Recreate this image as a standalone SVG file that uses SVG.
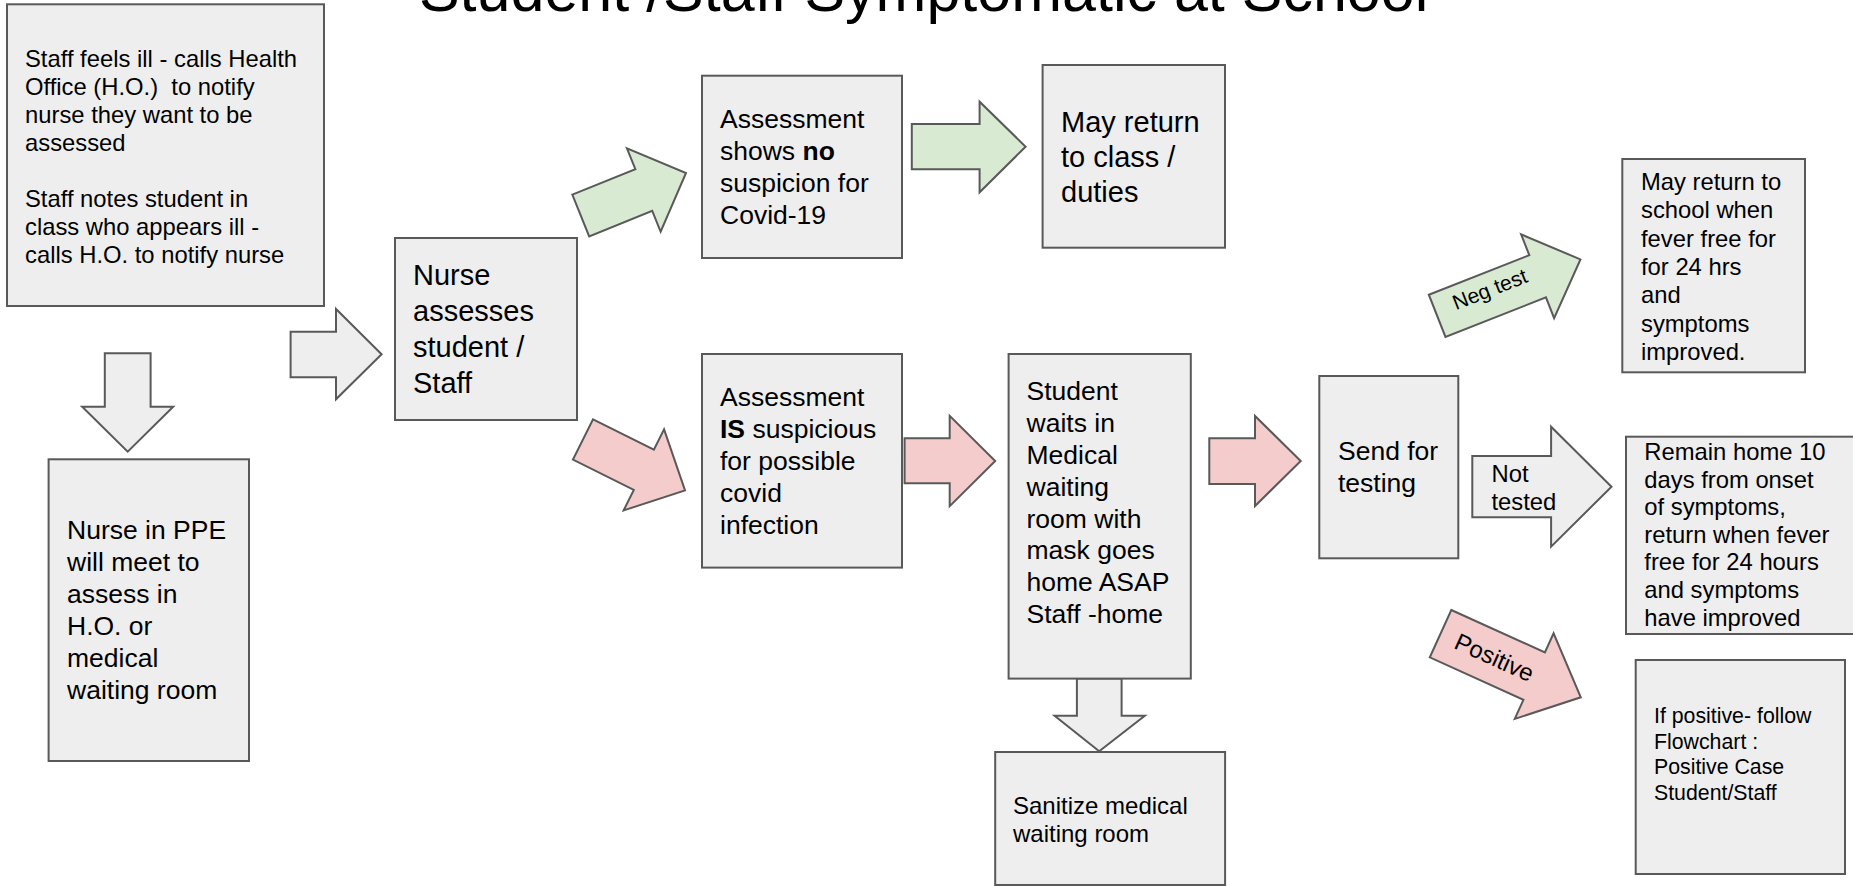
<svg xmlns="http://www.w3.org/2000/svg" width="1853" height="886" viewBox="0 0 1853 886">
<style>
.box{fill:#eeeeee;stroke:#595959;stroke-width:2}
.ga{fill:#eeeeee;stroke:#595959;stroke-width:2;stroke-linejoin:miter}
.gr{fill:#d9ead3;stroke:#595959;stroke-width:2}
.pk{fill:#f4cccc;stroke:#595959;stroke-width:2}
text{font-family:"Liberation Sans",Arial,sans-serif;fill:#000;white-space:pre}
.t29{font-size:29px}
.t26{font-size:26.5px}
.t24{font-size:23.8px}
.t21{font-size:21.3px}
.b{font-weight:bold}
</style>
<rect width="1853" height="886" fill="#ffffff"/>
<text x="923.6" y="11" text-anchor="middle" style="font-size:61px">Student /Staff Symptomatic at School</text>

<g id="connectors">
  <path class="ga" d="M290.6,331.7 H336 V309 L381.6,354.3 L336,399.3 V377.3 H290.6 Z"/>
  <path class="ga" d="M104.8,353.3 H150.6 V406.7 H173.2 L127.7,451.7 L82.2,406.7 H104.8 Z"/>
  <path class="gr" transform="translate(580.75,215.5) rotate(-22)" d="M0,-22.5 H68 V-45 L113.5,0 L68,45 V22.5 H0 Z"/>
  <path class="pk" transform="translate(583,439.5) rotate(26.5)" d="M0,-22.5 H68 V-45.3 L114,0 L68,45.3 V22.5 H0 Z"/>
  <path class="gr" d="M911.8,124 H979.6 V101.7 L1025.6,146.7 L979.6,192.3 V169.3 H911.8 Z"/>
  <path class="pk" d="M904.6,438.2 H949.7 V415.8 L995.2,461 L949.7,506.2 V483.2 H904.6 Z"/>
  <path class="ga" d="M1076.9,678.6 H1121.6 V715.8 H1144.8 L1099.2,751.3 L1054.6,715.8 H1076.9 Z"/>
  <path class="pk" d="M1209.3,438.3 H1255 V416 L1300.7,461 L1255,506 V484 H1209.3 Z"/>
  <g id="neg-test">
    <path class="gr" transform="translate(1437.15,315.85) rotate(-21.5)" d="M0,-22.7 H108 V-45 L154,0 L108,45 V22.7 H0 Z"/>
    <text class="t21" x="0" y="0" text-anchor="middle" transform="translate(1492.5,296) rotate(-21.5)" style="font-size:21px">Neg test</text>
  </g>
  <g id="not-tested">
    <path class="ga" d="M1472.3,456 H1551.1 V426.7 L1611.5,486.7 L1551.1,546.7 V517.3 H1472.3 Z"/>
    <text class="t24" x="1491.5" y="482">Not</text>
    <text class="t24" x="1491.5" y="510">tested</text>
  </g>
  <g id="positive">
    <path class="pk" transform="translate(1440.55,633.65) rotate(24.4)" d="M0,-26 H102.8 V-47 L154,0 L102.8,47 V26 H0 Z"/>
    <text x="0" y="0" text-anchor="middle" transform="translate(1491,665) rotate(24.4)" style="font-size:24px">Positive</text>
  </g>
</g>

<g id="node-staff-ill">
  <rect class="box" x="7" y="4.3" width="317" height="301.7"/>
  <text class="t24" x="25" y="66.7">Staff feels ill - calls Health</text>
  <text class="t24" x="25" y="95">Office (H.O.)  to notify</text>
  <text class="t24" x="25" y="123.3">nurse they want to be</text>
  <text class="t24" x="25" y="151.3">assessed</text>
  <text class="t24" x="25" y="206.7">Staff notes student in</text>
  <text class="t24" x="25" y="235">class who appears ill -</text>
  <text class="t24" x="25" y="263.3">calls H.O. to notify nurse</text>
</g>

<g id="node-nurse-ppe">
  <rect class="box" x="48.6" y="459.3" width="200.4" height="301.7"/>
  <text class="t26" x="67" y="539.3">Nurse in PPE</text>
  <text class="t26" x="67" y="571.3">will meet to</text>
  <text class="t26" x="67" y="603.3">assess in</text>
  <text class="t26" x="67" y="635.2">H.O. or</text>
  <text class="t26" x="67" y="667">medical</text>
  <text class="t26" x="67" y="699">waiting room</text>
</g>

<g id="node-nurse-assesses">
  <rect class="box" x="395" y="238" width="182" height="182"/>
  <text class="t29" x="413" y="285">Nurse</text>
  <text class="t29" x="413" y="321">assesses</text>
  <text class="t29" x="413" y="357.3">student /</text>
  <text class="t29" x="413" y="393.3">Staff</text>
</g>

<g id="node-no-suspicion">
  <rect class="box" x="702" y="75.7" width="200" height="182.3"/>
  <text class="t26" x="720" y="128.3">Assessment</text>
  <text class="t26" x="720" y="160">shows <tspan class="b">no</tspan></text>
  <text class="t26" x="720" y="191.8">suspicion for</text>
  <text class="t26" x="720" y="223.6">Covid-19</text>
</g>

<g id="node-return-class">
  <rect class="box" x="1042.6" y="65" width="182.4" height="182.7"/>
  <text class="t29" x="1061" y="131.5">May return</text>
  <text class="t29" x="1061" y="166.5">to class /</text>
  <text class="t29" x="1061" y="201.5">duties</text>
</g>

<g id="node-is-suspicious">
  <rect class="box" x="702" y="354" width="200" height="213.6"/>
  <text class="t26" x="720" y="406.2">Assessment</text>
  <text class="t26" x="720" y="438.2"><tspan class="b">IS</tspan> suspicious</text>
  <text class="t26" x="720" y="470">for possible</text>
  <text class="t26" x="720" y="502">covid</text>
  <text class="t26" x="720" y="534">infection</text>
</g>

<g id="node-student-waits">
  <rect class="box" x="1008.6" y="354" width="182.2" height="324.6"/>
  <text class="t26" x="1026.5" y="400">Student</text>
  <text class="t26" x="1026.5" y="431.9">waits in</text>
  <text class="t26" x="1026.5" y="463.8">Medical</text>
  <text class="t26" x="1026.5" y="495.6">waiting</text>
  <text class="t26" x="1026.5" y="527.5">room with</text>
  <text class="t26" x="1026.5" y="559.4">mask goes</text>
  <text class="t26" x="1026.5" y="591.3">home ASAP</text>
  <text class="t26" x="1026.5" y="623.2">Staff -home</text>
</g>

<g id="node-sanitize">
  <rect class="box" x="995.2" y="752" width="229.9" height="133"/>
  <text x="1013" y="814" style="font-size:24px">Sanitize medical</text>
  <text x="1013" y="842" style="font-size:24px">waiting room</text>
</g>

<g id="node-send-testing">
  <rect class="box" x="1319.3" y="376" width="139" height="182.3"/>
  <text class="t26" x="1338" y="460">Send for</text>
  <text class="t26" x="1338" y="491.5">testing</text>
</g>

<g id="node-return-school">
  <rect class="box" x="1622.3" y="159" width="182.7" height="213.3"/>
  <text class="t24" x="1641" y="190">May return to</text>
  <text class="t24" x="1641" y="218.3">school when</text>
  <text class="t24" x="1641" y="246.7">fever free for</text>
  <text class="t24" x="1641" y="275">for 24 hrs</text>
  <text class="t24" x="1641" y="303.3">and</text>
  <text class="t24" x="1641" y="331.7">symptoms</text>
  <text class="t24" x="1641" y="360">improved.</text>
</g>

<g id="node-remain-home">
  <rect class="box" x="1626" y="436.7" width="245" height="197.3"/>
  <text class="t24" x="1644.3" y="460">Remain home 10</text>
  <text class="t24" x="1644.3" y="487.5">days from onset</text>
  <text class="t24" x="1644.3" y="515">of symptoms,</text>
  <text class="t24" x="1644.3" y="542.5">return when fever</text>
  <text class="t24" x="1644.3" y="570">free for 24 hours</text>
  <text class="t24" x="1644.3" y="597.5">and symptoms</text>
  <text class="t24" x="1644.3" y="625.5">have improved</text>
</g>

<g id="node-if-positive">
  <rect class="box" x="1635.7" y="660" width="209.3" height="214"/>
  <text class="t21" x="1654" y="722.7">If positive- follow</text>
  <text class="t21" x="1654" y="748.5">Flowchart :</text>
  <text class="t21" x="1654" y="774.3">Positive Case</text>
  <text class="t21" x="1654" y="800">Student/Staff</text>
</g>
</svg>
